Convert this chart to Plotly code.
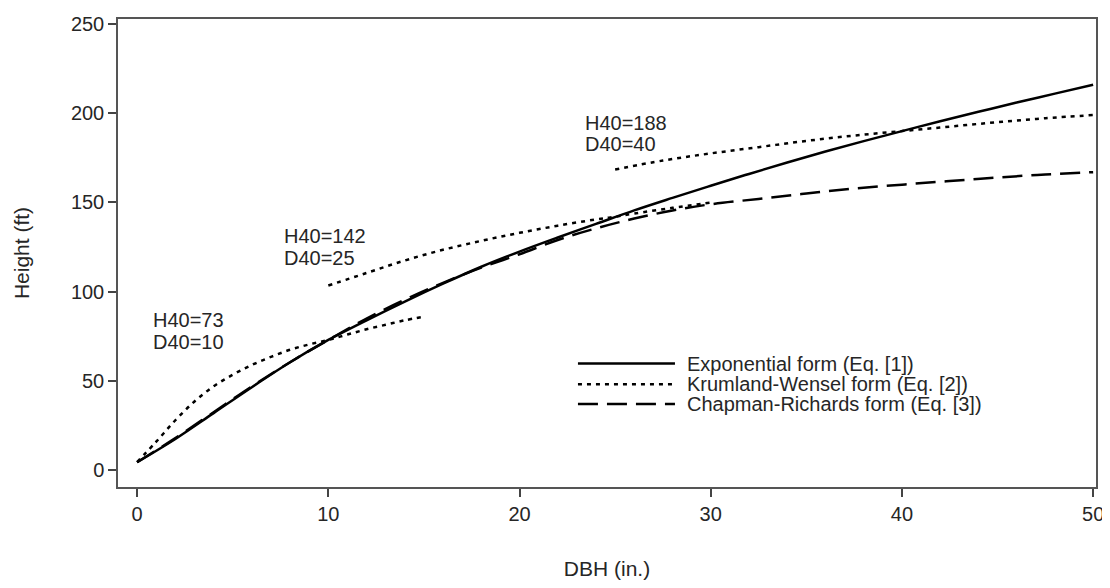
import plotly.graph_objects as go

# Exponential form (Eq. [1])
exp_dbh = [0, 2, 4, 6, 8, 10, 12, 14, 16, 18, 20, 22, 24, 26, 28, 30, 32, 34, 36, 38, 40, 42, 44, 46, 48, 50]
exp_ht = [4.5, 17.5, 32, 46.5, 60.5, 73, 84, 94.5, 104.5, 114, 122.5, 130.4, 138, 145.6, 152.6, 159.4, 166, 172.4, 178.6, 184.4, 190, 195.5, 200.8, 206, 211, 216]

# Krumland-Wensel form (Eq. [2]) - three site curves
kw1_dbh = [0, 1, 2, 3, 4, 5, 6, 7, 8, 9, 10, 11, 12, 13, 14, 15]
kw1_ht = [4.5, 16, 28, 38.5, 47, 53.5, 59, 63.5, 67.5, 70.5, 73, 76, 79, 81.5, 84, 86]
kw2_dbh = [10, 12, 14, 16, 18, 20, 22, 24, 25, 26, 28, 30]
kw2_ht = [103.5, 110.5, 117.5, 123.5, 128.5, 133, 137, 140.5, 142, 143.8, 147, 150]
kw3_dbh = [25, 27.5, 30, 32.5, 35, 37.5, 40, 42.5, 45, 47.5, 50]
kw3_ht = [168.5, 173.5, 177.5, 181, 184.5, 187.5, 190, 192.5, 195, 197.2, 199]

# Chapman-Richards form (Eq. [3])
cr_dbh = [0, 2, 4, 6, 8, 10, 12, 14, 16, 18, 20, 22, 24, 26, 28, 30, 32.5, 35, 37.5, 40, 42.5, 45, 47.5, 50]
cr_ht = [4.5, 18, 32.5, 47, 60.5, 73, 85, 95.5, 105, 113.5, 121, 129, 135.5, 141, 145.5, 149, 152, 155, 157.8, 160, 162, 164, 165.7, 167]

# site curve labels
site_h40 = ["H40=73", "H40=142", "H40=188"]
site_d40 = ["D40=10", "D40=25", "D40=40"]
site_label_x = [0.7, 7.6, 23.3]
site_h40_y = [84, 131, 194.7]
site_d40_y = [72, 119, 183]

legend_names = ["Exponential form (Eq. [1])", "Krumland-Wensel form (Eq. [2])", "Chapman-Richards form (Eq. [3])"]

FONT = "Liberation Sans, Arial, sans-serif"
INK = "#262626"
SOLID = dict(color="black", width=2.5)
DOTTED = dict(color="black", width=2.5, dash="4px,5px")
DASHED = dict(color="black", width=2.5, dash="20px,9px")

fig = go.Figure()
fig.add_trace(go.Scatter(x=exp_dbh, y=exp_ht, mode="lines", name=legend_names[0],
                         line=dict(**SOLID, shape="spline")))
for xs, ys in [(kw1_dbh, kw1_ht), (kw2_dbh, kw2_ht), (kw3_dbh, kw3_ht)]:
    fig.add_trace(go.Scatter(x=xs, y=ys, mode="lines", name=legend_names[1],
                             line=dict(**DOTTED, shape="spline")))
fig.add_trace(go.Scatter(x=cr_dbh, y=cr_ht, mode="lines", name=legend_names[2],
                         line=dict(**DASHED, shape="spline")))

for t1, t2, x, y1, y2 in zip(site_h40, site_d40, site_label_x, site_h40_y, site_d40_y):
    for t, y in ((t1, y1), (t2, y2)):
        fig.add_annotation(x=x, y=y, text=t, showarrow=False, xanchor="left", yanchor="middle",
                           align="left", font=dict(family=FONT, size=20, color=INK))

# legend drawn in plot-area (paper) coordinates
leg_x0, leg_x1, leg_text_x = 0.4703, 0.5695, 0.5798
leg_rows = [0.2637, 0.2194, 0.1772]
for name, style, yy in zip(legend_names, [SOLID, DOTTED, DASHED], leg_rows):
    fig.add_shape(type="line", xref="paper", yref="paper", x0=leg_x0, x1=leg_x1, y0=yy, y1=yy,
                  line=style)
    fig.add_annotation(xref="paper", yref="paper", x=leg_text_x, y=yy, text=name, showarrow=False,
                       xanchor="left", yanchor="middle", font=dict(family=FONT, size=20, color=INK))

axis_common = dict(showline=True, linecolor="#555555", linewidth=1.5, mirror=True,
                   ticks="outside", ticklen=8, tickwidth=1.5, tickcolor="#444444",
                   showgrid=False, zeroline=False,
                   tickfont=dict(family=FONT, size=20, color=INK))

# The page body has an 8px default margin; the figure is sized/margined to compensate.
fig.update_layout(
    width=1102, height=580,
    margin=dict(l=110, r=14, t=5, b=101),
    paper_bgcolor="white", plot_bgcolor="white",
    showlegend=False,
    xaxis=dict(range=[-1, 50.15], tickvals=[0, 10, 20, 30, 40, 50],
               title=dict(text="DBH (in.)", font=dict(family=FONT, size=21, color=INK), standoff=38),
               **axis_common),
    yaxis=dict(range=[-9.4, 252.8], tickvals=[0, 50, 100, 150, 200, 250],
               title=dict(text="Height (ft)", font=dict(family=FONT, size=21, color=INK), standoff=36),
               **axis_common),
)

fig.write_html("out.html")
